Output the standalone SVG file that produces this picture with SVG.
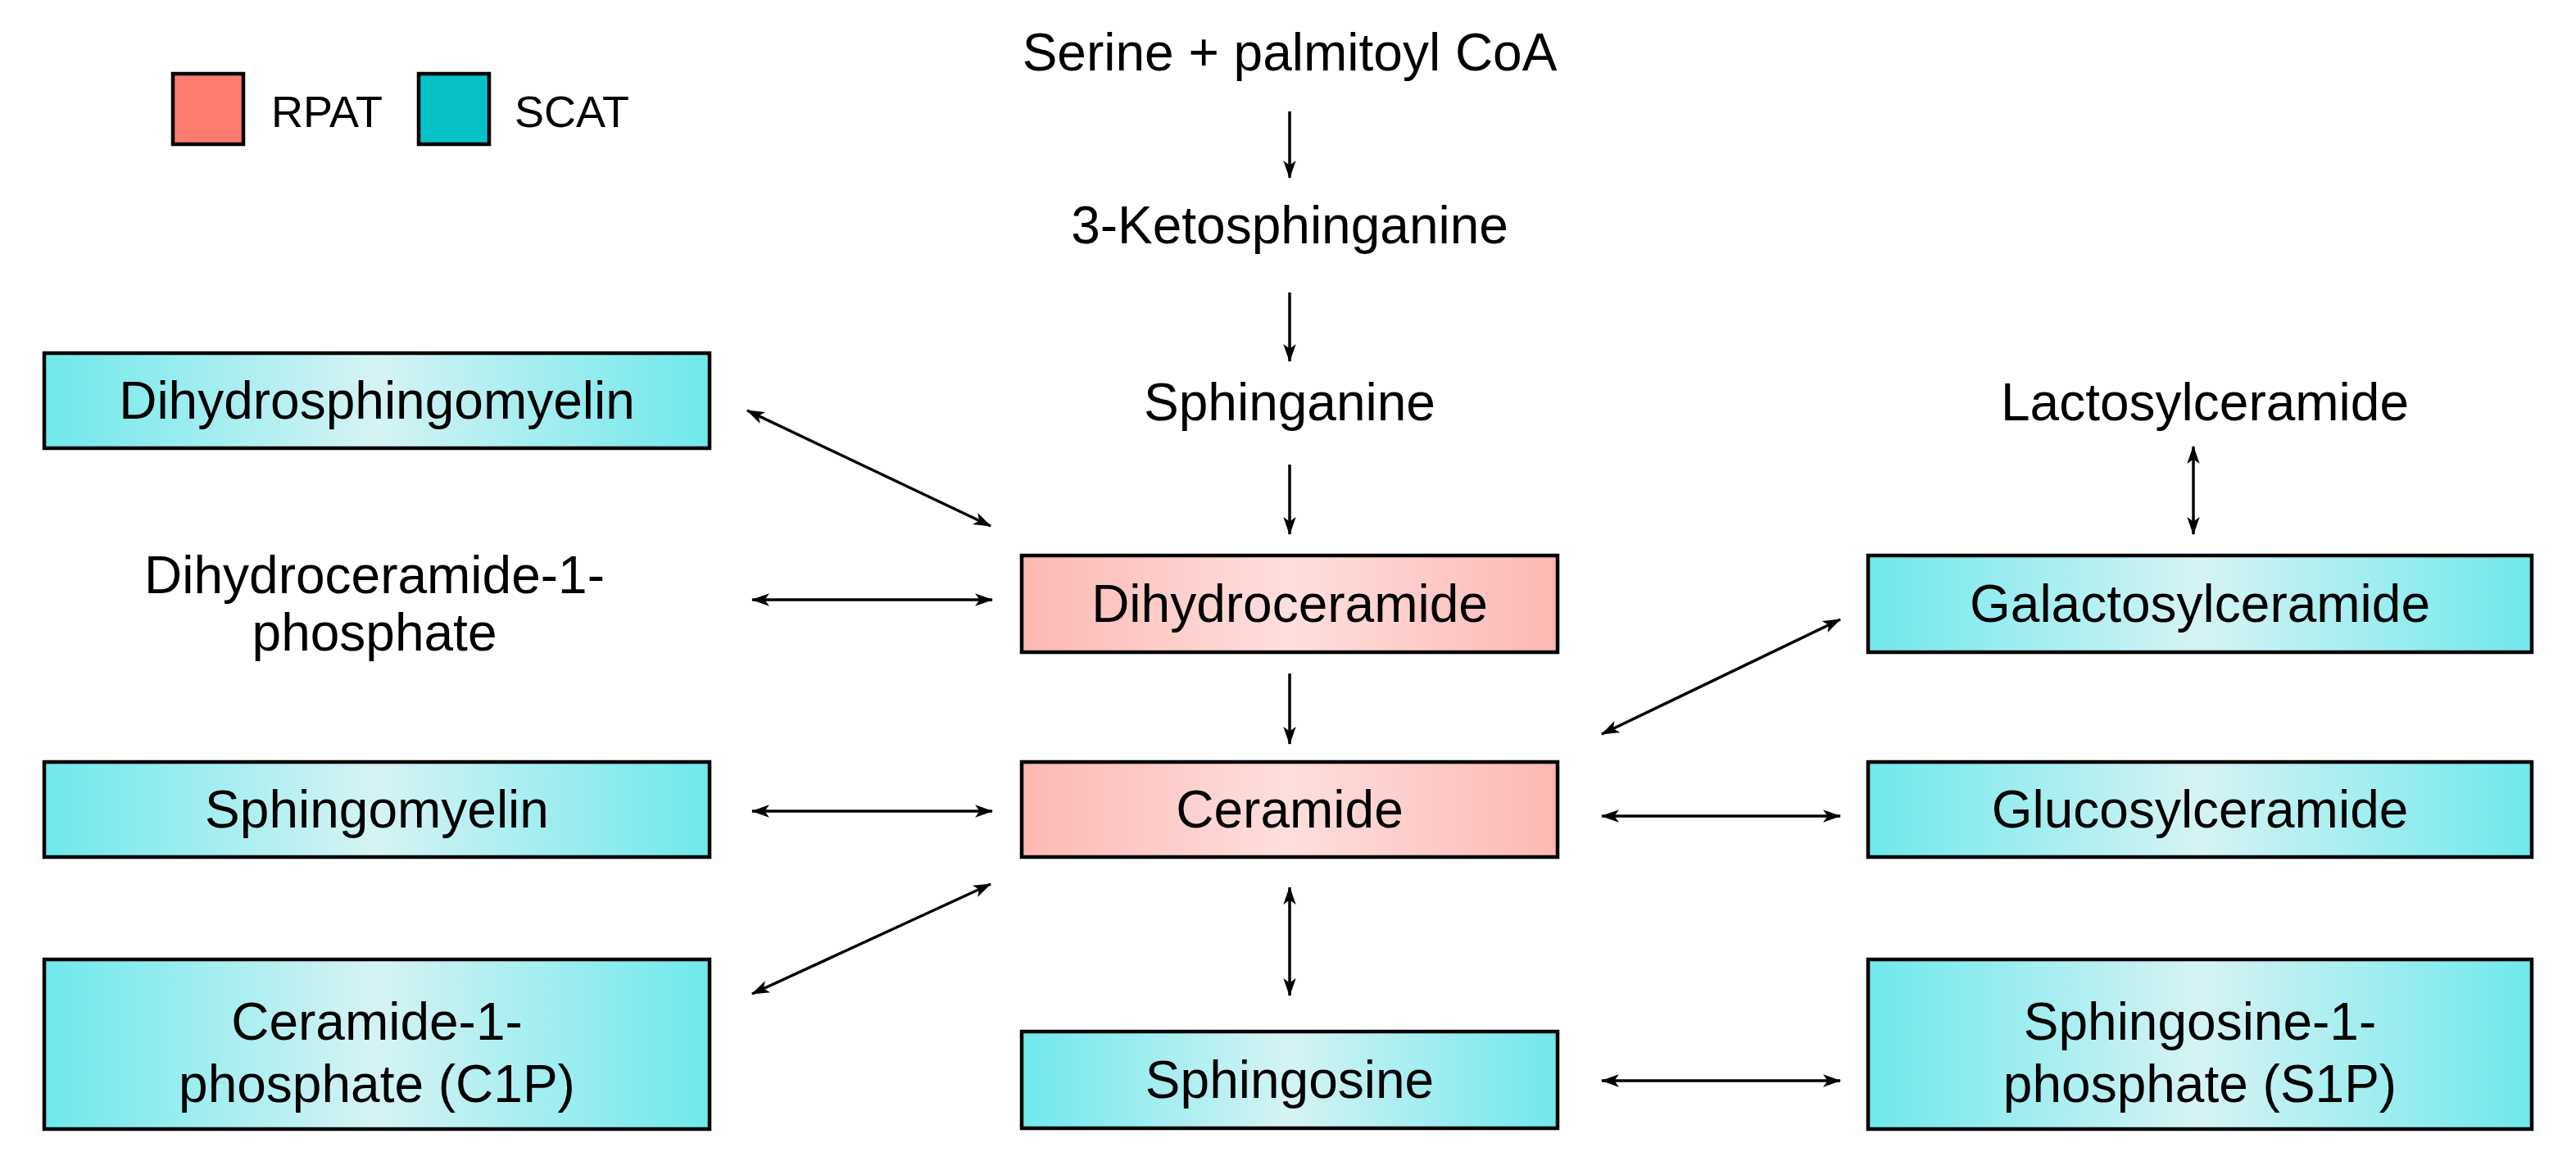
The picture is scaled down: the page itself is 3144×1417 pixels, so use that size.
<svg xmlns="http://www.w3.org/2000/svg" width="3144" height="1417" viewBox="0 0 3144 1417">
<style>
text{font-family:"Liberation Sans",Arial,sans-serif;font-size:64px;fill:#000;text-anchor:middle}
.b{stroke:#000;stroke-width:4.5}
.c{fill:url(#cy)}
.p{fill:url(#pk)}
.a{stroke:#000;stroke-width:3.5;fill:none;marker-end:url(#ah)}
.d{stroke:#000;stroke-width:3.5;fill:none;marker-end:url(#ah);marker-start:url(#as)}
</style>
<defs>
<linearGradient id="cy" x1="0" x2="1" y1="0" y2="0"><stop offset="0" stop-color="#6fe8ec"/><stop offset="0.5" stop-color="#d6f3f4"/><stop offset="1" stop-color="#6fe8ec"/></linearGradient>
<linearGradient id="pk" x1="0" x2="1" y1="0" y2="0"><stop offset="0" stop-color="#fdb8b3"/><stop offset="0.5" stop-color="#fedfdd"/><stop offset="1" stop-color="#fdb8b3"/></linearGradient>
<marker id="ah" viewBox="0 0 20 14" refX="19" refY="7" markerWidth="22" markerHeight="16" markerUnits="userSpaceOnUse" orient="auto"><path d="M0,0 L20,7 L0,14 L5,7 Z" fill="#000"/></marker>
<marker id="as" viewBox="0 0 20 14" refX="1" refY="7" markerWidth="22" markerHeight="16" markerUnits="userSpaceOnUse" orient="auto"><path d="M20,0 L0,7 L20,14 L15,7 Z" fill="#000"/></marker>
</defs>
<rect width="3144" height="1417" fill="#fff"/>
<g id="legend">
<rect class="b" x="211" y="90" width="86" height="86" fill="#fd7b6f"/>
<text x="331" y="155" style="text-anchor:start;font-size:54px">RPAT</text>
<rect class="b" x="511" y="90" width="86" height="86" fill="#07c1c9"/>
<text x="628" y="155" style="text-anchor:start;font-size:54px">SCAT</text>
</g>
<g id="serine"><text x="1574" y="86">Serine + palmitoyl CoA</text></g>
<g id="keto"><text x="1574" y="297">3-Ketosphinganine</text></g>
<g id="sphinganine"><text x="1574" y="513">Sphinganine</text></g>
<g id="dihydroceramide"><rect class="b p" x="1247" y="678" width="654" height="118"/><text x="1574" y="759">Dihydroceramide</text></g>
<g id="ceramide"><rect class="b p" x="1247" y="930" width="654" height="116"/><text x="1574" y="1010">Ceramide</text></g>
<g id="sphingosine"><rect class="b c" x="1247" y="1259" width="654" height="118"/><text x="1574" y="1340">Sphingosine</text></g>
<g id="dihydrosphingomyelin"><rect class="b c" x="54" y="431" width="812" height="116"/><text x="460" y="511">Dihydrosphingomyelin</text></g>
<g id="dihydroceramide1p"><text x="457" y="724">Dihydroceramide-1-</text><text x="457" y="794">phosphate</text></g>
<g id="sphingomyelin"><rect class="b c" x="54" y="930" width="812" height="116"/><text x="460" y="1010">Sphingomyelin</text></g>
<g id="c1p"><rect class="b c" x="54" y="1171" width="812" height="207"/><text x="460" y="1269">Ceramide-1-</text><text x="460" y="1345">phosphate (C1P)</text></g>
<g id="lactosylceramide"><text x="2691" y="513">Lactosylceramide</text></g>
<g id="galactosylceramide"><rect class="b c" x="2280" y="678" width="810" height="118"/><text x="2685" y="759">Galactosylceramide</text></g>
<g id="glucosylceramide"><rect class="b c" x="2280" y="930" width="810" height="116"/><text x="2685" y="1010">Glucosylceramide</text></g>
<g id="s1p"><rect class="b c" x="2280" y="1171" width="810" height="207"/><text x="2685" y="1269">Sphingosine-1-</text><text x="2685" y="1345">phosphate (S1P)</text></g>
<g id="connectors">
<line class="a" x1="1574" y1="136" x2="1574" y2="217"/>
<line class="a" x1="1574" y1="357" x2="1574" y2="441"/>
<line class="a" x1="1574" y1="567" x2="1574" y2="652"/>
<line class="a" x1="1574" y1="822" x2="1574" y2="908"/>
<line class="d" x1="1574" y1="1083" x2="1574" y2="1215"/>
<line class="d" x1="912" y1="501" x2="1209" y2="642"/>
<line class="d" x1="918" y1="732" x2="1211" y2="732"/>
<line class="d" x1="918" y1="990" x2="1211" y2="990"/>
<line class="d" x1="918" y1="1213" x2="1209" y2="1079"/>
<line class="d" x1="2677" y1="545" x2="2677" y2="652"/>
<line class="d" x1="1955" y1="896" x2="2246" y2="756"/>
<line class="d" x1="1955" y1="996" x2="2246" y2="996"/>
<line class="d" x1="1955" y1="1319" x2="2246" y2="1319"/>
</g>
</svg>
